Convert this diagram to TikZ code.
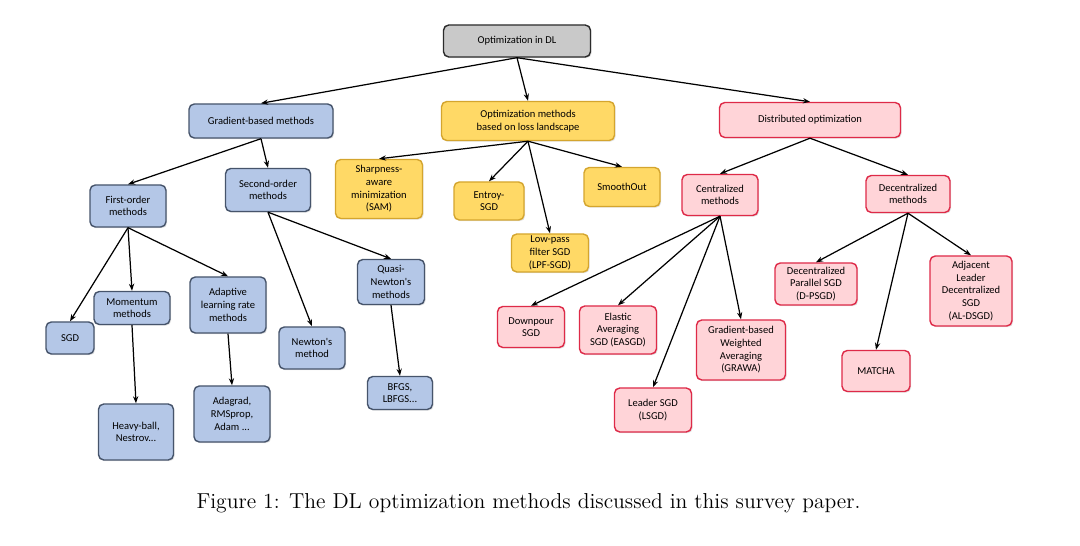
\documentclass[tikz,border=0pt]{standalone}
\usepackage{fontspec}
\newfontfamily\boxfont{Carlito}
\usetikzlibrary{arrows.meta,shadows}
\definecolor{gfill}{HTML}{C9C9C9}
\definecolor{gdraw}{HTML}{2B2B2B}
\definecolor{bfill}{HTML}{B4C7E7}
\definecolor{bdraw}{HTML}{46546B}
\definecolor{yfill}{HTML}{FFD966}
\definecolor{ydraw}{HTML}{D4A52E}
\definecolor{pfill}{HTML}{FFD4D8}
\definecolor{pdraw}{HTML}{DE2A48}
\begin{document}
\begin{tikzpicture}[x=0.02cm,y=-0.02cm,
  box/.style={draw, rounded corners=3pt, line width=0.8pt, align=center,
    font=\boxfont\fontsize{6}{7.2}\selectfont, inner sep=1pt,
    drop shadow={shadow xshift=0.7pt,shadow yshift=-0.7pt,opacity=0.22}},
  sz/.style 2 args={minimum width=#1*0.02cm, minimum height=#2*0.02cm},
  graybox/.style={box, fill=gfill, draw=gdraw},
  bluebox/.style={box, fill=bfill, draw=bdraw},
  yelbox/.style={box, fill=yfill, draw=ydraw},
  pinkbox/.style={box, fill=pfill, draw=pdraw},
  arr/.style={-{Stealth[length=4pt,width=3pt]}, line width=0.7pt, black}
]
\useasboundingbox (0,0) rectangle (1080,546);

% level 0
\node[graybox,sz={147}{32}] (root) at (517,41) {Optimization in DL};

% level 1
\node[bluebox,sz={144}{34}] (grad) at (261,121) {Gradient-based methods};
\node[yelbox,sz={173}{39}] (loss) at (528,121) {Optimization methods\\based on loss landscape};
\node[pinkbox,sz={181}{35}] (dist) at (810,120) {Distributed optimization};

% level 2
\node[bluebox,sz={76}{42}] (first) at (128,206) {First-order\\methods};
\node[bluebox,sz={85}{43}] (second) at (268,190) {Second-order\\methods};
\node[yelbox,sz={87}{59}] (sam) at (379,189) {Sharpness-\\aware\\minimization\\(SAM)};
\node[yelbox,sz={70}{38}] (entropy) at (489,201) {Entroy-\\SGD};
\node[yelbox,sz={77}{38}] (lpf) at (550,253) {Low-pass\\filter SGD\\(LPF-SGD)};
\node[yelbox,sz={76}{39}] (smooth) at (622,187) {SmoothOut};
\node[pinkbox,sz={76}{41}] (central) at (720,195) {Centralized\\methods};
\node[pinkbox,sz={84}{37}] (decent) at (908,194) {Decentralized\\methods};

% level 3
\node[bluebox,sz={48}{32}] (sgd) at (70,338) {SGD};
\node[bluebox,sz={76}{33}] (mom) at (132,308) {Momentum\\methods};
\node[bluebox,sz={76}{56}] (adapt) at (228,305) {Adaptive\\learning rate\\methods};
\node[bluebox,sz={66}{42}] (newton) at (312,348) {Newton's\\method};
\node[bluebox,sz={67}{45}] (quasi) at (391,282) {Quasi-\\Newton's\\methods};
\node[pinkbox,sz={67}{41}] (down) at (531,327) {Downpour\\SGD};
\node[pinkbox,sz={77}{48}] (easgd) at (618,330) {Elastic\\Averaging\\SGD (EASGD)};
\node[pinkbox,sz={89}{60}] (grawa) at (741,350) {Gradient-based\\Weighted\\Averaging\\(GRAWA)};
\node[pinkbox,sz={77}{44}] (lsgd) at (653,410) {Leader SGD\\(LSGD)};
\node[pinkbox,sz={82}{42}] (dpsgd) at (816,284) {Decentralized\\Parallel SGD\\(D-PSGD)};
\node[pinkbox,sz={68}{41}] (matcha) at (876,371) {MATCHA};
\node[pinkbox,sz={82}{70}] (aldsgd) at (971,291) {Adjacent\\Leader\\Decentralized\\SGD\\(AL-DSGD)};

% level 4
\node[bluebox,sz={75}{56}] (heavy) at (136,432) {Heavy-ball,\\Nestrov...};
\node[bluebox,sz={76}{56}] (adagrad) at (232,414) {Adagrad,\\RMSprop,\\Adam ...};
\node[bluebox,sz={65}{33}] (bfgs) at (400,393) {BFGS,\\LBFGS...};

% connectors
\draw[arr] (root.south) -- (grad.north);
\draw[arr] (root.south) -- (loss.north);
\draw[arr] (root.south) -- (dist.north);

\draw[arr] (grad.south) -- (first.north);
\draw[arr] (grad.south) -- (second.north);

\draw[arr] (loss.south) -- (sam.north);
\draw[arr] (loss.south) -- (entropy.north);
\draw[arr] (loss.south) -- (lpf.north);
\draw[arr] (loss.south) -- (smooth.north);

\draw[arr] (dist.south) -- (central.north);
\draw[arr] (dist.south) -- (decent.north);

\draw[arr] (first.south) -- (sgd.north);
\draw[arr] (first.south) -- (mom.north);
\draw[arr] (first.south) -- (adapt.north);
\draw[arr] (second.south) -- (newton.north);
\draw[arr] (second.south) -- (quasi.north);
\draw[arr] (mom.south) -- (heavy.north);
\draw[arr] (adapt.south) -- (adagrad.north);
\draw[arr] (quasi.south) -- (bfgs.north);

\draw[arr] (central.south) -- (down.north);
\draw[arr] (central.south) -- (easgd.north);
\draw[arr] (central.south) -- (lsgd.north);
\draw[arr] (central.south) -- (grawa.north);

\draw[arr] (decent.south) -- (dpsgd.north);
\draw[arr] (decent.south) -- (matcha.north);
\draw[arr] (decent.south) -- (aldsgd.north);

% caption
\node[font=\fontsize{12.3}{14}\selectfont, inner sep=0pt] (cap) at (528.5,503)
  {Figure 1: The DL optimization methods discussed in this survey paper.};
\end{tikzpicture}
\end{document}
